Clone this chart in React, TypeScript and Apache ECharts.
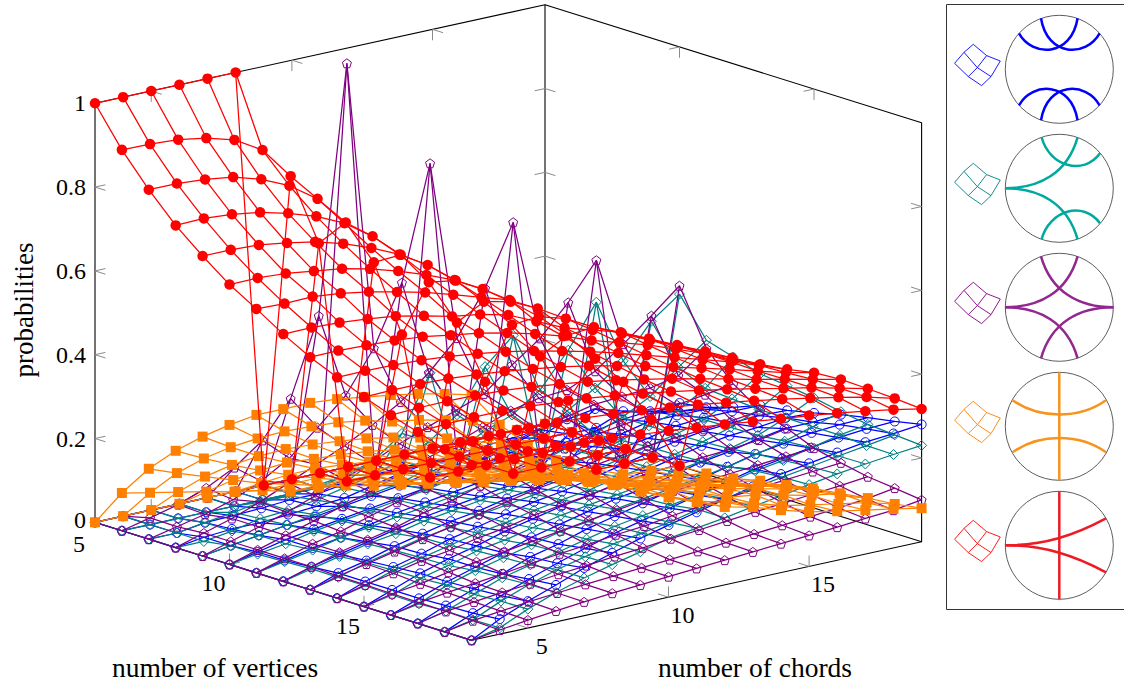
import React, { useEffect, useRef } from "react";
import * as echarts from "echarts";

const vertices = [5, 6, 7, 8, 9, 10, 11, 12, 13, 14, 15, 16, 17, 18, 19];
const chords = [3, 4, 5, 6, 7, 8, 9, 10, 11, 12, 13, 14, 15, 16, 17, 18, 19];
const zTickValues = [0, 0.2, 0.4, 0.6, 0.8, 1];
const zTickLabels = ["0", "0.2", "0.4", "0.6", "0.8", "1"];
const vertexTicks = [5, 10, 15];
const chordTicks = [5, 10, 15];

// every row is one number of vertices, every column one number of chords
const blueValues = [
  [0, 0, 0, 0, 0, 0, 0, 0, 0, 0, 0, 0, 0, 0, 0, 0, 0],
  [0, 0, 0, 0, 0, 0, 0, 0, 0, 0, 0, 0, 0, 0, 0, 0, 0],
  [0, 0, .01, .012, .015, .02, .02, .03, .035, .04, 0, 0, 0, 0, 0, 0, 0],
  [0, .01, .015, .015, .02, .025, .03, .045, .06, .07, .075, .05, .07, 0, 0, 0, 0],
  [0, .01, .02, .03, .035, .045, .055, .065, .08, .095, .115, .12, .125, .10, .10, 0, 0],
  [0, .015, .03, .04, .05, .06, .07, .08, .09, .10, .12, .14, .17, .18, .16, .14, .15],
  [0, .015, .03, .04, .055, .07, .08, .09, .10, .11, .13, .15, .16, .175, .18, .165, .16],
  [0, .02, .035, .05, .065, .08, .09, .10, .11, .125, .14, .16, .175, .19, .19, .19, .18],
  [0, .025, .04, .06, .075, .09, .10, .115, .125, .14, .155, .175, .185, .20, .205, .205, .205],
  [0, .025, .045, .062, .082, .097, .112, .127, .137, .152, .167, .182, .197, .207, .212, .215, .213],
  [0, .025, .05, .07, .086, .106, .121, .136, .147, .162, .177, .192, .207, .217, .222, .23, .227],
  [0, .025, .05, .07, .09, .112, .128, .144, .16, .17, .186, .202, .213, .228, .239, .24, .243],
  [0, .028, .053, .074, .1, .116, .137, .153, .169, .185, .196, .212, .228, .238, .249, .254, .256],
  [0, .03, .057, .082, .105, .126, .146, .162, .178, .194, .21, .226, .237, .248, .258, .264, .267],
  [0, .036, .064, .088, .114, .135, .155, .172, .188, .204, .22, .235, .246, .257, .267, .273, .28],
];
const tealValues = [
  [0, 0, 0, 0, 0, 0, 0, 0, 0, 0, 0, 0, 0, 0, 0, 0, 0],
  [0, 0, 0, 0, 0, 0, 0, 0, 0, 0, 0, 0, 0, 0, 0, 0, 0],
  [0, 0, .01, .02, .03, .03, .04, .05, .07, .12, .25, 0, 0, 0, 0, 0, 0],
  [0, 0, .01, .025, .03, .04, .055, .07, .09, .12, .17, .27, .33, 0, 0, 0, 0],
  [0, .01, .02, .03, .04, .05, .06, .07, .09, .115, .15, .175, .22, .30, .40, 0, 0],
  [0, .01, .02, .035, .045, .055, .065, .075, .09, .105, .125, .15, .19, .23, .28, .36, .41],
  [0, .012, .025, .04, .05, .06, .07, .08, .09, .1, .115, .135, .155, .18, .215, .27, .32],
  [0, .015, .03, .045, .055, .07, .08, .09, .10, .11, .125, .14, .16, .18, .20, .24, .30],
  [0, .015, .035, .05, .065, .075, .09, .10, .11, .12, .135, .15, .165, .18, .20, .235, .28],
  [0, .015, .037, .052, .067, .082, .092, .107, .117, .127, .142, .152, .167, .182, .202, .23, .272],
  [0, .013, .038, .054, .074, .085, .1, .115, .125, .135, .145, .16, .17, .186, .203, .23, .263],
  [0, .012, .042, .062, .078, .094, .11, .12, .135, .146, .156, .167, .178, .193, .209, .229, .25],
  [0, .015, .04, .065, .081, .097, .113, .129, .14, .15, .161, .172, .188, .198, .214, .229, .24],
  [0, .014, .044, .069, .09, .106, .122, .133, .144, .16, .171, .182, .193, .203, .214, .224, .235],
  [0, .015, .045, .07, .09, .107, .123, .14, .15, .16, .172, .183, .195, .206, .215, .223, .23],
];
const purpleValues = [
  [0, 0, 0, 0, 0, 0, 0, 0, 0, 0, 0, 0, 0, 0, 0, 0, 0],
  [0, .016, .033, .058, .092, .142, .227, .41, .998, 0, 0, 0, 0, 0, 0, 0, 0],
  [0, .015, .03, .05, .08, .12, .178, .24, .338, .48, .75, 0, 0, 0, 0, 0, 0],
  [0, .02, .04, .065, .095, .125, .155, .19, .23, .285, .353, .457, .6, 0, 0, 0, 0],
  [0, .02, .04, .06, .085, .11, .135, .165, .19, .215, .24, .294, .343, .414, .5, 0, 0],
  [0, .02, .04, .06, .08, .1, .125, .15, .17, .195, .22, .235, .24, .27, .32, .373, .43],
  [0, .02, .04, .055, .075, .095, .115, .135, .155, .175, .195, .21, .225, .23, .235, .25, .30],
  [0, .02, .04, .055, .07, .09, .105, .125, .14, .155, .17, .185, .195, .205, .215, .225, .236],
  [0, .018, .032, .047, .062, .077, .092, .107, .122, .132, .147, .157, .167, .172, .177, .183, .192],
  [0, .017, .03, .045, .055, .07, .08, .095, .105, .115, .125, .135, .14, .145, .15, .157, .17],
  [0, .016, .025, .038, .048, .058, .068, .078, .088, .098, .108, .114, .12, .126, .132, .138, .143],
  [0, .015, .024, .032, .04, .05, .058, .065, .074, .08, .09, .098, .104, .11, .116, .122, .128],
  [0, .014, .022, .03, .036, .044, .05, .057, .063, .07, .076, .083, .09, .096, .102, .108, .115],
  [0, .012, .02, .028, .034, .04, .045, .05, .055, .06, .066, .072, .078, .084, .09, .097, .108],
  [0, .01, .019, .026, .033, .039, .044, .049, .054, .059, .064, .069, .074, .079, .085, .09, .10],
];
const orangeValues = [
  [0, 0, 0, 0, 0, 0, 0, 0, 0, 0, 0, 0, 0, 0, 0, 0, 0],
  [.09, .076, .063, .049, .034, .023, .005, 0, 0, 0, 0, 0, 0, 0, 0, 0, 0],
  [.168, .143, .12, .097, .075, .057, .04, .025, .01, .003, 0, 0, 0, 0, 0, 0, 0],
  [.231, .198, .168, .14, .115, .092, .072, .055, .033, .02, .01, .003, 0, 0, 0, 0, 0],
  [.285, .245, .209, .179, .15, .125, .103, .075, .056, .042, .03, .02, .01, .003, 0, 0, 0],
  [.333, .286, .246, .208, .179, .154, .129, .103, .082, .066, .052, .04, .028, .017, .009, .003, 0],
  [.377, .323, .277, .238, .206, .178, .153, .131, .111, .093, .076, .06, .046, .033, .022, .011, .002],
  [.411, .355, .305, .266, .231, .202, .176, .153, .132, .113, .095, .078, .063, .048, .035, .023, .01],
  [.446, .385, .332, .29, .253, .223, .196, .172, .15, .13, .111, .094, .078, .063, .049, .037, .025],
  [.475, .409, .354, .31, .273, .242, .214, .189, .166, .146, .127, .109, .092, .076, .061, .047, .031],
  [.5, .427, .374, .33, .291, .257, .229, .203, .18, .16, .141, .125, .115, .10, .086, .07, .04],
  [.525, .451, .392, .345, .305, .271, .242, .216, .193, .172, .153, .14, .125, .11, .095, .082, .05],
  [.548, .47, .405, .36, .32, .285, .255, .229, .206, .185, .165, .14, .13, .115, .10, .09, .064],
  [.568, .49, .42, .372, .331, .295, .262, .232, .205, .18, .162, .145, .125, .112, .10, .088, .07],
  [.586, .50, .437, .386, .34, .30, .268, .238, .212, .186, .171, .149, .13, .117, .105, .093, .08],
];
const redValues = [
  [1, 1, 1, 1, 1, 1, 0, 0, 0, 0, 0, 0, 0, 0, 0, 0, 0],
  [.909, .908, .904, .893, .874, .835, .758, .583, 0, 0, 0, 0, 0, 0, 0, 0, 0],
  [.834, .834, .829, .82, .80, .77, .724, .653, .543, .356, 0, 0, 0, 0, 0, 0, 0],
  [.769, .771, .766, .756, .739, .717, .686, .64, .581, .501, .39, .234, 0, 0, 0, 0, 0],
  [.716, .716, .713, .703, .691, .672, .647, .617, .577, .525, .46, .39, .30, .18, 0, 0, 0],
  [.668, .669, .665, .656, .647, .632, .612, .588, .561, .525, .48, .43, .37, .30, .23, .125, 0],
  [.63, .628, .63, .623, .612, .597, .581, .561, .54, .519, .484, .445, .41, .38, .349, .32, .287],
  [.59, .591, .588, .582, .574, .56, .544, .534, .518, .488, .458, .438, .418, .388, .358, .328, .291],
  [.555, .556, .554, .551, .545, .534, .524, .51, .493, .473, .448, .428, .408, .383, .358, .333, .303],
  [.527, .528, .527, .524, .518, .51, .5, .487, .472, .456, .438, .418, .398, .378, .358, .335, .311],
  [.5, .502, .502, .5, .495, .488, .479, .469, .457, .442, .427, .41, .393, .375, .356, .338, .323],
  [.477, .48, .481, .48, .477, .471, .463, .454, .443, .43, .417, .402, .387, .371, .357, .342, .327],
  [.457, .461, .463, .463, .46, .455, .449, .441, .431, .421, .409, .397, .384, .37, .357, .341, .325],
  [.436, .44, .443, .443, .441, .437, .432, .426, .418, .41, .4, .39, .379, .367, .354, .34, .322],
  [.418, .42, .422, .42, .413, .409, .403, .397, .39, .383, .375, .367, .36, .351, .341, .33, .317],
];

const PENTAGON = "path://M0,-10L9.51,-3.09L5.88,8.09L-5.88,8.09L-9.51,-3.09Z";
const surfaces = [
  { name: "blue", values: blueValues, color: "#0000ff", symbol: "circle", size: 9, filled: false },
  { name: "teal", values: tealValues, color: "#008080", symbol: "diamond", size: 10, filled: false },
  { name: "purple", values: purpleValues, color: "#800080", symbol: PENTAGON, size: 9, filled: false },
  { name: "orange", values: orangeValues, color: "#ff8000", symbol: "rect", size: 10, filled: true },
  { name: "red", values: redValues, color: "#ff0000", symbol: "circle", size: 10.5, filled: true },
];

const VMIN = 5, VMAX = 19, CMIN = 3, CMAX = 19;
const X0 = 95, Y0 = 522.3, DVX = 26.9, DCX = 28.125, DVY = 8.43, DCY = -6.16, ZS = 419;
const project = (v: number, c: number, z: number) => [
  X0 + DVX * (v - VMIN) + DCX * (c - CMIN),
  Y0 + DVY * (v - VMIN) + DCY * (c - CMIN) - ZS * z,
];

const plain = (data: number[][], color: string, width: number, z: number) => ({
  type: "line", data, showSymbol: false, symbol: "none", silent: true, clip: false, z,
  lineStyle: { color, width }, animation: false,
});

const TICK_V = 0.39, TICK_C = 0.37, TICK_Z = 0.026;
const GREY = "#8a8a8a";
const MESH_WIDTH = 1.25;

function buildSeries() {
  const out: any[] = [];
  // the box
  const box: [number, number, number][][] = [
    [[VMIN, CMIN, 0], [VMIN, CMIN, 1], [VMIN, CMAX, 1], [VMAX, CMAX, 1], [VMAX, CMAX, 0], [VMAX, CMIN, 0], [VMIN, CMIN, 0]],
    [[VMIN, CMAX, 1], [VMIN, CMAX, 0]],
    [[VMIN, CMIN, 0], [VMIN, CMAX, 0], [VMAX, CMAX, 0]],
  ];
  box.forEach((b) => out.push(plain(b.map((p) => project(p[0], p[1], p[2])), "#000000", 1.1, 1)));
  // the ticks: each one is a pair of short strokes in the two directions of its faces
  const tick = (v: number, c: number, z: number, d: number[][]) => {
    d.forEach((s) => out.push(plain([project(v, c, z), project(v + s[0], c + s[1], z + s[2])], GREY, 1, 1)));
  };
  zTickValues.slice(1, 5).forEach((z) => {
    tick(VMIN, CMIN, z, [[TICK_V, 0, 0], [0, TICK_C, 0]]);
    tick(VMIN, CMAX, z, [[TICK_V, 0, 0], [0, -TICK_C, 0]]);
    tick(VMAX, CMAX, z, [[-TICK_V, 0, 0], [0, -TICK_C, 0]]);
  });
  chordTicks.forEach((c) => {
    tick(VMIN, c, 1, [[0, 0, -TICK_Z], [TICK_V, 0, 0]]);
    tick(VMIN, c, 0, [[0, 0, TICK_Z], [TICK_V, 0, 0]]);
    tick(VMAX, c, 0, [[0, 0, TICK_Z], [-TICK_V, 0, 0]]);
  });
  vertexTicks.slice(1).forEach((v) => {
    tick(v, CMIN, 0, [[0, 0, TICK_Z], [0, TICK_C, 0]]);
    tick(v, CMAX, 0, [[0, 0, TICK_Z], [0, -TICK_C, 0]]);
    tick(v, CMAX, 1, [[0, 0, -TICK_Z], [0, -TICK_C, 0]]);
  });
  surfaces.forEach((s, k) => {
    const z = 2 + k;
    chords.forEach((c, j) => {
      out.push(plain(vertices.map((v, i) => project(v, c, s.values[i][j])), s.color, MESH_WIDTH, z));
    });
    vertices.forEach((v, i) => {
      out.push({
        type: "line",
        data: chords.map((c, j) => project(v, c, s.values[i][j])),
        symbol: s.symbol,
        symbolSize: s.size,
        showSymbol: true,
        showAllSymbol: true,
        silent: true,
        clip: false,
        z,
        lineStyle: { color: s.color, width: MESH_WIDTH },
        itemStyle: s.filled
          ? { color: s.color, borderWidth: 0 }
          : { color: "rgba(0,0,0,0)", borderColor: s.color, borderWidth: 1 },
        animation: false,
      });
    });
  });
  return out;
}

// the legend panel
const PANEL_CX = 1059.3;
const PANEL_RADIUS = 54;
const panelCenters = [69.3, 188.3, 307.3, 426.3, 545.3];
const panelColors = ["#0000ff", "#00a99d", "#92278f", "#f7941d", "#ed1c24"];
const iconColors = ["#0000ff", "#008080", "#800080", "#ff8000", "#ff0000"];
const iconOutline = [[-104.7, -6], [-95.3, -17], [-86, -25], [-72.7, -13.7], [-59, -8.3], [-68.3, 7.3], [-77.7, 16.3], [-91, 7.3]];
const iconInnerA = [[-95.3, -17], [-82, -1.7], [-68.3, 7.3]];
const iconInnerB = [[-72.7, -13.7], [-82, -1.7], [-91, 7.3]];
const arcCornerTop = [-40.3, -36, -27, -12, 12, -12, 18.3, -51];
const arcFan = [-54, 0, -20, 0, 8, -15, 18.3, -51];
const arcTeal = [-17.7, -51, -10, -22, 24, -12, 40.7, -35];
const arcOrange = [-46.7, -26, -20, -7, 20, -7, 46.7, -26];
const arcRed = [-54, 0, -15, 0, 15, -10, 46.7, -27];
const flip = (a: number[], sx: number, sy: number) => a.map((n, i) => n * (i % 2 === 0 ? sx : sy));
const panelArcs = [
  [arcCornerTop, flip(arcCornerTop, -1, 1), flip(arcCornerTop, 1, -1), flip(arcCornerTop, -1, -1)],
  [arcFan, flip(arcFan, 1, -1), arcTeal, flip(arcTeal, 1, -1)],
  [arcFan, flip(arcFan, 1, -1), flip(arcFan, -1, 1), flip(arcFan, -1, -1)],
  [arcOrange, flip(arcOrange, 1, -1), [0, -54, 0, -20, 0, 20, 0, 54]],
  [arcRed, flip(arcRed, 1, -1), [0, -54, 0, -20, 0, 20, 0, 54]],
];

function buildGraphic() {
  const els: any[] = [];
  const SERIF = '"Liberation Serif", serif';
  const text = (t: string, x: number, y: number, size: number, rotation = 0) => ({
    type: "text", x, y, rotation, silent: true,
    style: { text: t, fill: "#000", font: `${size}px ${SERIF}`, textAlign: "center", textVerticalAlign: "middle" },
  });
  zTickValues.forEach((z, i) => {
    const p = project(VMIN, CMIN, z);
    els.push({ type: "text", x: p[0] - 9, y: z === 0 ? p[1] - 2 : p[1], silent: true,
      style: { text: zTickLabels[i], fill: "#000", font: `24px ${SERIF}`, textAlign: "right", textVerticalAlign: "middle" } });
  });
  vertexTicks.forEach((v) => {
    const p = project(v, CMIN, 0);
    els.push(text(String(v), p[0] - 16, p[1] + (v === 5 ? 22 : 19), 24));
  });
  chordTicks.forEach((c) => {
    const p = project(VMAX, c, 0);
    els.push(text(String(c), p[0] + 14, p[1] + 18, 24));
  });
  els.push(text("probabilities", 24, 310, 27, Math.PI / 2));
  els.push(text("number of vertices", 215, 667, 27.5));
  els.push(text("number of chords", 755, 667, 27.5));

  els.push({ type: "rect", silent: true, shape: { x: 946.5, y: 4.5, width: 200, height: 605 },
    style: { fill: "#fff", stroke: "#333", lineWidth: 1 } });
  panelCenters.forEach((cy, i) => {
    els.push({ type: "circle", silent: true, shape: { cx: PANEL_CX, cy, r: PANEL_RADIUS },
      style: { fill: "none", stroke: "#333", lineWidth: 0.8 } });
    panelArcs[i].forEach((a) => {
      els.push({ type: "bezierCurve", silent: true,
        shape: { x1: PANEL_CX + a[0], y1: cy + a[1], cpx1: PANEL_CX + a[2], cpy1: cy + a[3], cpx2: PANEL_CX + a[4], cpy2: cy + a[5], x2: PANEL_CX + a[6], y2: cy + a[7] },
        style: { fill: "none", stroke: panelColors[i], lineWidth: 2.5 } });
    });
    const pts = (l: number[][]) => l.map((p) => [PANEL_CX + p[0], cy + p[1]]);
    els.push({ type: "polygon", silent: true, shape: { points: pts(iconOutline) }, style: { fill: "none", stroke: iconColors[i], lineWidth: 0.9 } });
    [iconInnerA, iconInnerB].forEach((l) => {
      els.push({ type: "polyline", silent: true, shape: { points: pts(l) }, style: { fill: "none", stroke: iconColors[i], lineWidth: 0.9 } });
    });
  });
  return els;
}

export default function App() {
  const ref = useRef<HTMLDivElement>(null);
  useEffect(() => {
    document.body.style.margin = "0";
    const chart = echarts.init(ref.current!, undefined, { renderer: "svg" });
    chart.setOption({
      animation: false,
      backgroundColor: "#fff",
      grid: { left: 0, right: 0, top: 0, bottom: 0 },
      xAxis: { type: "value", min: 0, max: 1124, show: false },
      yAxis: { type: "value", min: 0, max: 683, inverse: true, show: false },
      series: buildSeries(),
      graphic: { elements: buildGraphic() },
    });
    return () => chart.dispose();
  }, []);
  return <div ref={ref} style={{ width: 1124, height: 683 }} />;
}
